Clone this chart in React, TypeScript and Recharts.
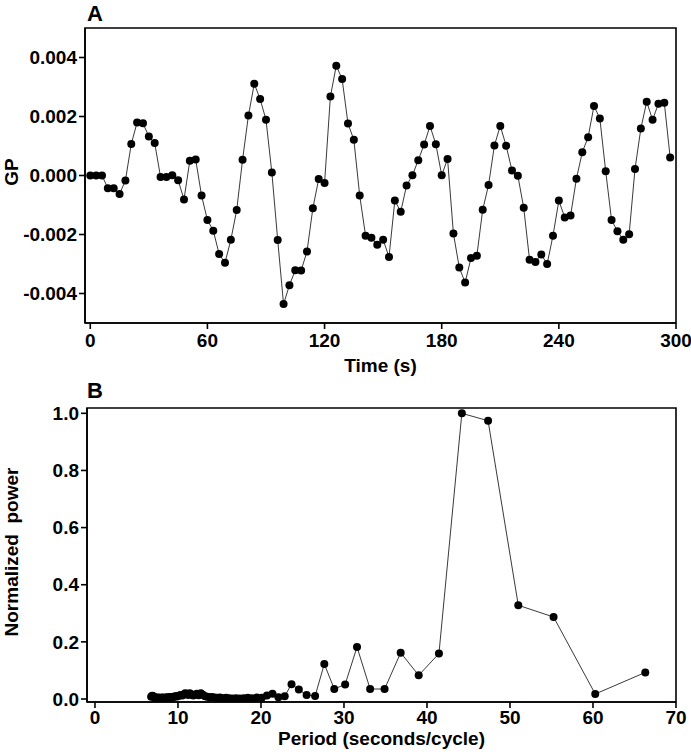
import React from "react";
import { LineChart, Line, XAxis, YAxis, ReferenceArea, Label } from "recharts";

const times = [
  0, 3, 6, 9, 12, 15, 18, 21, 24, 27, 30, 33, 36, 39, 42, 45, 48, 51, 54, 57,
  60, 63, 66, 69, 72, 75, 78, 81, 84, 87, 90, 93, 96, 99, 102, 105, 108, 111, 114, 117,
  120, 123, 126, 129, 132, 135, 138, 141, 144, 147, 150, 153, 156, 159, 162, 165, 168, 171, 174, 177,
  180, 183, 186, 189, 192, 195, 198, 201, 204, 207, 210, 213, 216, 219, 222, 225, 228, 231, 234, 237,
  240, 243, 246, 249, 252, 255, 258, 261, 264, 267, 270, 273, 276, 279, 282, 285, 288, 291, 294, 297,
];

const gpValues = [
  0, 0, 0, -0.00043, -0.00043, -0.00063, -0.00017, 0.00107, 0.0018, 0.00177,
  0.00132, 0.0011, -0.00005, -0.00005, 0.00001, -0.00016, -0.00081, 0.0005, 0.00054, -0.00068,
  -0.00151, -0.00187, -0.00266, -0.00296, -0.00218, -0.00117, 0.00053, 0.00203, 0.00311, 0.00259,
  0.00189, 0.0001, -0.00219, -0.00436, -0.00372, -0.00321, -0.00322, -0.00258, -0.00111, -0.00012,
  -0.00025, 0.00268, 0.00372, 0.00327, 0.00176, 0.00121, -0.00068, -0.00204, -0.00211, -0.00235,
  -0.00218, -0.00276, -0.00085, -0.00123, -0.00034, 0.00001, 0.00052, 0.00105, 0.00168, 0.00106,
  0.00001, 0.00056, -0.00197, -0.00312, -0.00363, -0.0028, -0.00272, -0.00116, -0.00032, 0.00102,
  0.00168, 0.00101, 0.00017, -0.00001, -0.00109, -0.00286, -0.00293, -0.00268, -0.003, -0.00204,
  -0.00085, -0.00142, -0.00136, -0.00011, 0.00079, 0.0013, 0.00236, 0.00193, 0.00014, -0.00151,
  -0.00189, -0.00218, -0.00199, 0.00022, 0.00159, 0.0025, 0.00189, 0.00243, 0.00247, 0.00061,
];

const periods = [
  6.77, 6.84, 6.91, 6.98, 7.05, 7.13, 7.21, 7.29, 7.37, 7.45,
  7.53, 7.62, 7.71, 7.8, 7.89, 7.99, 8.09, 8.19, 8.29, 8.39,
  8.5, 8.61, 8.72, 8.84, 8.96, 9.08, 9.21, 9.34, 9.47, 9.61,
  9.75, 9.9, 10.05, 10.2, 10.36, 10.52, 10.69, 10.87, 11.05, 11.24,
  11.43, 11.63, 11.84, 12.05, 12.28, 12.51, 12.75, 13.0, 13.26, 13.53,
  13.81, 14.11, 14.41, 14.73, 15.07, 15.42, 15.79, 16.17, 16.58, 17.0,
  17.45, 17.92, 18.42, 18.94, 19.5, 20.09, 20.72, 21.39, 22.1, 22.86,
  23.68, 24.56, 25.5, 26.52, 27.63, 28.83, 30.14, 31.57, 33.15, 34.89,
  36.83, 39.0, 41.44, 44.2, 47.36, 51.0, 55.25, 60.27, 66.3,
];

const powers = [
  0.008, 0.01, 0.011, 0.01, 0.009, 0.007, 0.005, 0.004, 0.003, 0.003,
  0.004, 0.005, 0.004, 0.003, 0.003, 0.004, 0.005, 0.004, 0.003, 0.004,
  0.005, 0.004, 0.005, 0.006, 0.005, 0.006, 0.007, 0.006, 0.008, 0.009,
  0.01, 0.009, 0.011, 0.012, 0.014, 0.012, 0.016, 0.02, 0.018, 0.014,
  0.02, 0.016, 0.012, 0.015, 0.018, 0.013, 0.02, 0.015, 0.01, 0.008,
  0.006, 0.007, 0.005, 0.004, 0.005, 0.003, 0.004, 0.003, 0.002, 0.003,
  0.002, 0.003, 0.004, 0.003, 0.005, 0.004, 0.012, 0.018, 0.006, 0.01,
  0.052, 0.033, 0.014, 0.0105, 0.1225, 0.035, 0.051, 0.182, 0.035, 0.035,
  0.162, 0.083, 0.159, 1.0, 0.974, 0.328, 0.287, 0.0175, 0.093,
];

const timeTicks = [0, 60, 120, 180, 240, 300];
const gpTicks = [-0.004, -0.002, 0, 0.002, 0.004];
const periodTicks = [0, 10, 20, 30, 40, 50, 60, 70];
const powerTicks = [0, 0.2, 0.4, 0.6, 0.8, 1.0];

const dataA = times.map((t, i) => ({ t, gp: gpValues[i] }));
const dataB = periods.map((p, i) => ({ p, pw: powers[i] }));

const FONT = "'Liberation Sans', Arial, Helvetica, sans-serif";
const FS = 19;
const tickStyle = { fontFamily: FONT, fontSize: FS, fontWeight: 700, fill: "#000" };
const axisLine = { stroke: "#000", strokeWidth: 1.6 };
const tickLine = { stroke: "#000", strokeWidth: 1.6 };
const dotStyle = { r: 4, fill: "#000", stroke: "#000", strokeWidth: 0 };

const xLabel = (text: string, baseline: number) => (props: any) => {
  const vb = props.viewBox || {};
  const cx = vb.x + vb.width / 2;
  return (
    <text x={cx} y={baseline} textAnchor="middle" style={{ fontFamily: FONT, fontSize: FS, fontWeight: 700 }} fill="#000">
      {text}
    </text>
  );
};

const yLabel = (text: string, bx: number, cy: number) => () => (
  <text
    x={bx}
    y={cy}
    transform={`rotate(-90, ${bx}, ${cy})`}
    textAnchor="middle"
    style={{ fontFamily: FONT, fontSize: FS, fontWeight: 700 }}
    fill="#000"
  >
    {text}
  </text>
);

export default function App() {
  return (
    <div style={{ position: "absolute", left: 0, top: 0, width: 691, height: 756, background: "#fff" }}>
      <div style={{ position: "absolute", left: 0, top: 0 }}>
        <LineChart width={691} height={380} data={dataA} margin={{ top: 28, right: 15, left: 0, bottom: 0 }}>
          <XAxis
            dataKey="t"
            type="number"
            domain={[-2.7, 300]}
            ticks={timeTicks}
            allowDataOverflow
            height={57}
            tickSize={6}
            tickMargin={5}
            tick={tickStyle}
            axisLine={axisLine}
            tickLine={tickLine}
          >
            <Label content={xLabel("Time (s)", 372)} />
          </XAxis>
          <YAxis
            type="number"
            domain={[-0.005, 0.005]}
            ticks={gpTicks}
            allowDataOverflow
            width={85}
            tickSize={6}
            tickMargin={2}
            tick={tickStyle}
            axisLine={axisLine}
            tickLine={tickLine}
            tickFormatter={(v: number) => v.toFixed(3)}
          >
            <Label content={yLabel("GP", 17.5, 172)} />
          </YAxis>
          <ReferenceArea x1={-2.7} x2={300} y1={-0.005} y2={0.005} fill="none" stroke="#000" strokeWidth={1.6} />
          <Line
            dataKey="gp"
            type="linear"
            stroke="#222"
            strokeWidth={0.9}
            dot={dotStyle}
            isAnimationActive={false}
          />
        </LineChart>
      </div>
      <div style={{ position: "absolute", left: 0, top: 380 }}>
        <LineChart width={691} height={376} data={dataB} margin={{ top: 28, right: 15, left: 0, bottom: 0 }}>
          <XAxis
            dataKey="p"
            type="number"
            domain={[-0.96, 70]}
            ticks={periodTicks}
            allowDataOverflow
            height={54}
            tickSize={6}
            tickMargin={3}
            tick={tickStyle}
            axisLine={axisLine}
            tickLine={tickLine}
          >
            <Label content={xLabel("Period (seconds/cycle)", 365)} />
          </XAxis>
          <YAxis
            type="number"
            domain={[-0.0105, 1.0186]}
            ticks={powerTicks}
            allowDataOverflow
            width={87}
            tickSize={6}
            tickMargin={2}
            tick={tickStyle}
            axisLine={axisLine}
            tickLine={tickLine}
            tickFormatter={(v: number) => v.toFixed(1)}
          >
            <Label content={yLabel("Normalized\u00A0 power", 18, 172)} />
          </YAxis>
          <ReferenceArea x1={-0.96} x2={70} y1={-0.0105} y2={1.0186} fill="none" stroke="#000" strokeWidth={1.6} />
          <Line
            dataKey="pw"
            type="linear"
            stroke="#222"
            strokeWidth={0.9}
            dot={dotStyle}
            isAnimationActive={false}
          />
        </LineChart>
      </div>
      <svg width={691} height={756} style={{ position: "absolute", left: 0, top: 0, pointerEvents: "none" }}>
        <text x={87} y={21} style={{ fontFamily: FONT, fontSize: 22, fontWeight: 700 }} fill="#000">A</text>
        <text x={87} y={398} style={{ fontFamily: FONT, fontSize: 22, fontWeight: 700 }} fill="#000">B</text>
      </svg>
    </div>
  );
}
